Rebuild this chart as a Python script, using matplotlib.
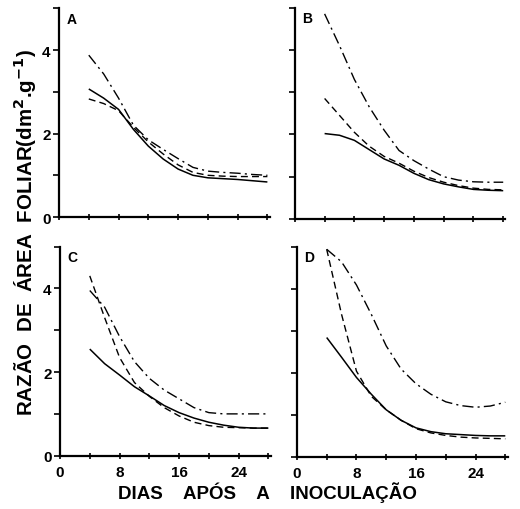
import matplotlib
matplotlib.use("Agg")
import matplotlib.pyplot as plt

plt.rcParams['font.family'] = ['Liberation Sans', 'DejaVu Sans']

days = [4, 6, 8, 10, 12, 14, 16, 18, 20, 22, 24, 26, 28]

# Panel A
a_solid = [3.07, 2.85, 2.58, 2.10, 1.70, 1.39, 1.15, 1.00, 0.94, 0.92, 0.90, 0.87, 0.84]
a_dash = [2.83, 2.72, 2.55, 2.15, 1.80, 1.51, 1.25, 1.07, 1.00, 0.98, 0.97, 0.97, 0.97]
a_dashdot = [3.88, 3.43, 2.85, 2.20, 1.85, 1.62, 1.40, 1.19, 1.10, 1.07, 1.05, 1.02, 1.00]

# Panel B
b_solid = [2.02, 1.98, 1.86, 1.64, 1.42, 1.27, 1.08, 0.93, 0.83, 0.76, 0.70, 0.68, 0.67]
b_dash = [2.85, 2.45, 2.05, 1.72, 1.48, 1.32, 1.13, 0.98, 0.87, 0.79, 0.73, 0.70, 0.69]
b_dashdot = [4.85, 4.10, 3.30, 2.65, 2.10, 1.62, 1.38, 1.18, 1.00, 0.92, 0.88, 0.87, 0.87]

# Panel C
c_solid = [2.55, 2.20, 1.93, 1.65, 1.43, 1.20, 1.03, 0.90, 0.80, 0.73, 0.68, 0.66, 0.66]
c_dash = [4.30, 3.30, 2.35, 1.75, 1.42, 1.15, 0.95, 0.80, 0.72, 0.68, 0.67, 0.66, 0.66]
c_dashdot = [3.95, 3.55, 2.85, 2.25, 1.85, 1.57, 1.36, 1.15, 1.03, 1.00, 1.00, 1.00, 1.00]

# Panel D
d_solid = [2.85, 2.38, 1.90, 1.50, 1.13, 0.88, 0.70, 0.61, 0.56, 0.54, 0.52, 0.51, 0.51]
d_dash = [4.95, 3.40, 2.05, 1.45, 1.13, 0.88, 0.68, 0.58, 0.52, 0.48, 0.46, 0.45, 0.44]
d_dashdot = [4.95, 4.65, 4.10, 3.40, 2.65, 2.10, 1.75, 1.50, 1.32, 1.23, 1.19, 1.22, 1.31]

panels = [
    ("A", a_solid, a_dash, a_dashdot),
    ("B", b_solid, b_dash, b_dashdot),
    ("C", c_solid, c_dash, c_dashdot),
    ("D", d_solid, d_dash, d_dashdot),
]

x_ticks = [0, 4, 8, 12, 16, 20, 24, 28]
x_ticklabels = ["0", "", "8", "", "16", "", "24", ""]
y_ticks = [0, 1, 2, 3, 4, 5]
y_ticklabels = ["0", "", "2", "", "4", ""]

ylabel = "RAZÃO  DE  ÁREA  FOLIAR(dm$^{\\mathbf{2}}$.g$^{\\mathbf{-1}}$)"
xlabel = "DIAS    APÓS    A    INOCULAÇÃO"

fig = plt.figure(figsize=(5.2, 5.1), dpi=100)

# axes rectangles [left, bottom, width, height] in figure fraction
rects = [
    [0.1135, 0.5725, 0.405, 0.409],
    [0.567, 0.5686, 0.405, 0.4147],
    [0.1154, 0.1045, 0.405, 0.41],
    [0.571, 0.1014, 0.405, 0.412],
]

for i, ((letter, s, d, dd), rect) in enumerate(zip(panels, rects)):
    ax = fig.add_axes(rect)
    ax.plot(days, s, color="black", lw=1.1, solid_capstyle="butt")
    ax.plot(days, d, color="black", lw=1.0, dashes=(5, 3))
    ax.plot(days, dd, color="black", lw=1.0, dashes=(8, 3, 1.5, 3))
    ax.set_xlim(0, 28.3)
    ax.set_ylim(0, 5)
    for sp in ("top", "right"):
        ax.spines[sp].set_visible(False)
    for sp in ("left", "bottom"):
        ax.spines[sp].set_linewidth(1.6)
    ax.set_xticks(x_ticks)
    ax.set_yticks(y_ticks)
    ax.tick_params(axis="x", direction="inout", length=5, width=1.2)
    ax.tick_params(axis="y", direction="out", length=4, width=1.2)
    if i >= 2:
        ax.set_xticklabels(x_ticklabels, fontsize=11, fontweight="bold")
    else:
        ax.set_xticklabels([])
    if i % 2 == 0:
        ax.set_yticklabels(y_ticklabels, fontsize=11, fontweight="bold")
    else:
        ax.set_yticklabels([])
    ax.tick_params(axis="y", pad=2)
    ax.tick_params(axis="x", pad=4)
    ax.text(0.035, 0.985, letter, transform=ax.transAxes, fontsize=10,
            fontweight="bold", ha="left", va="top")

fig.text(0.048, 0.545, ylabel, rotation=90, ha="center", va="center",
         fontsize=14.8, fontweight="bold")
fig.text(0.514, 0.035, xlabel, ha="center", va="center", fontsize=13.5,
         fontweight="bold")

fig.savefig("out.png", dpi=100)
